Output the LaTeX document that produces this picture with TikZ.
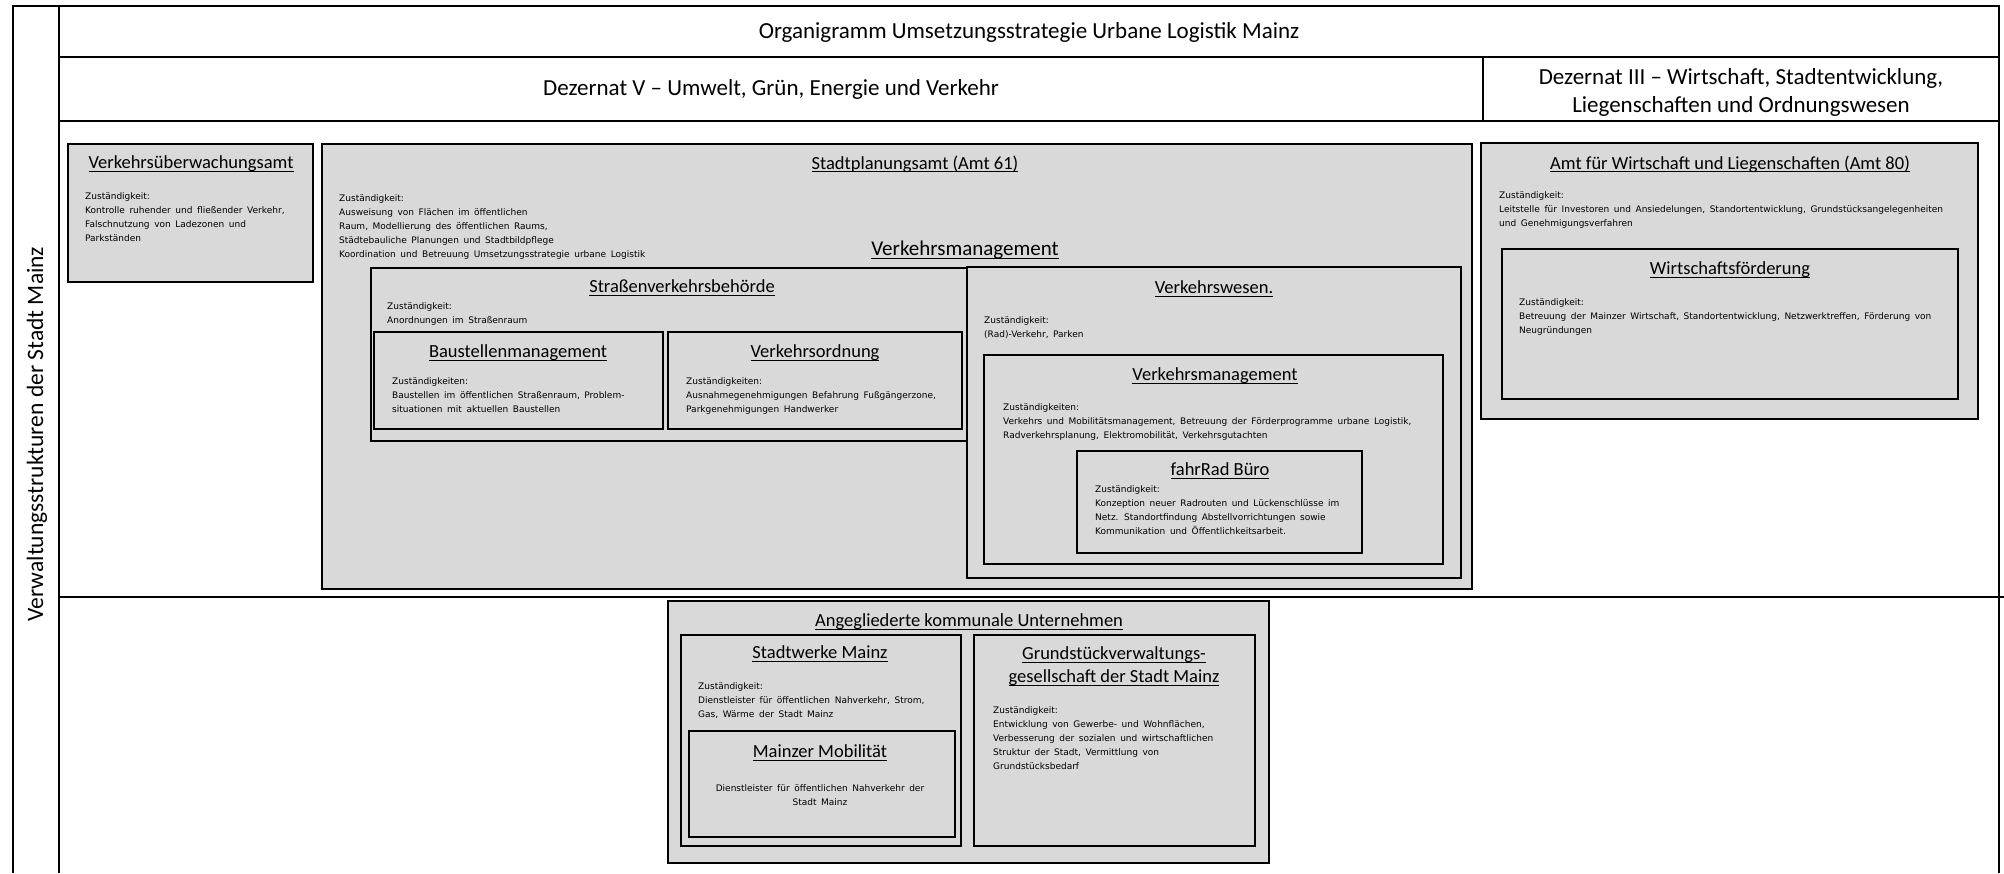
\documentclass[tikz,border=0pt]{standalone}
\usepackage{fontspec}
\setmainfont{Carlito}
\newfontfamily\infofont[WordSpace=1.6]{DejaVu Sans}
\usepackage{tikz}
\usetikzlibrary{fit}
\newcommand{\unterstr}[1]{\leavevmode\setbox0\hbox{#1}\rlap{\vrule height -0.12em depth 0.17em width \wd0}\box0}
\definecolor{boxgray}{RGB}{217,217,217}
\tikzstyle{frame} = [draw, line width=1.8pt]
\tikzstyle{box} = [draw, fill=boxgray, line width=2.3pt, inner sep=0pt]
\tikzstyle{head} = [font=\fontsize{18.5}{23}\selectfont, align=center, inner sep=0pt]
\tikzstyle{big} = [font=\fontsize{23}{28}\selectfont, align=center, inner sep=0pt]
\tikzstyle{info} = [font=\infofont\fontsize{9}{14.2}\selectfont, align=left, anchor=north west, inner sep=0pt]

\begin{document}
\begin{tikzpicture}[x=1pt, y=-1pt]
		            \useasboundingbox (0,0) rectangle (2004,873);
		                \draw [frame] (13,873) -- (13,6) -- (1999,6) -- (1999,873);
		                \draw [frame] (59,6) -- (59,873);
		                \draw [frame] (59,57) -- (1999,57);
		                \draw [frame] (59,121) -- (1999,121);
		                \draw [frame] (1483,57) -- (1483,121);
		                \draw [frame] (59,597) -- (2004,597);
		                \node [big] (titel) at (1029,32) {Organigramm Umsetzungsstrategie Urbane Logistik Mainz};
		                \node [big] (dez5) at (771,89) {Dezernat V -- Umwelt, Grün, Energie und Verkehr};
		                \node [big] (dez3) at (1741,92) {Dezernat III -- Wirtschaft, Stadtentwicklung,\\Liegenschaften und Ordnungswesen};
		                \node [rotate=90, font=\fontsize{23.5}{28}\selectfont] (verw) at (37,434) {Verwaltungsstrukturen der Stadt Mainz};
		                \node [box, fit={(68,144) (313,282)}] (vua) {};
		                \node [box, fit={(322,144) (1472,589)}] (spa) {};
		                \node [box, fit={(371,268) (967,441)}] (svb) {};
		                \node [box, fit={(374,332) (663,429)}] (bsm) {};
		                \node [box, fit={(668,332) (962,429)}] (vo) {};
		                \node [box, fit={(967,267) (1461,578)}] (vw) {};
		                \node [box, fit={(984,355) (1443,564)}] (vm) {};
		                \node [box, fit={(1077,451) (1362,553)}] (frb) {};
		                \node [box, fit={(1481,143) (1978,419)}] (a80) {};
		                \node [box, fit={(1502,249) (1958,399)}] (wf) {};
		                \node [box, fit={(668,601) (1269,863)}] (aku) {};
		                \node [box, fit={(681,635) (961,846)}] (swm) {};
		                \node [box, fit={(689,731) (955,837)}] (mm) {};
		                \node [box, fit={(974,635) (1255,846)}] (gvg) {};
		                \node [head] (vua-h) at (191,164) {\unterstr{Verkehrsüberwachungsamt}};
		                \node [head] (spa-h) at (915,164) {\unterstr{Stadtplanungsamt (Amt 61)}};
		                \node [head, font=\fontsize{21}{25}\selectfont] (vmg-h) at (965,250) {\unterstr{Verkehrsmanagement}};
		                \node [head] (svb-h) at (682,288) {\unterstr{Straßenverkehrsbehörde}};
		                \node [head] (bsm-h) at (518,353) {\unterstr{Baustellenmanagement}};
		                \node [head] (vo-h) at (815,353) {\unterstr{Verkehrsordnung}};
		                \node [head] (vw-h) at (1214,289) {\unterstr{Verkehrswesen.}};
		                \node [head] (vm-h) at (1215,376) {\unterstr{Verkehrsmanagement}};
		                \node [head] (frb-h) at (1220,471) {\unterstr{fahrRad Büro}};
		                \node [head] (a80-h) at (1730,164) {\unterstr{Amt für Wirtschaft und Liegenschaften (Amt 80)}};
		                \node [head] (wf-h) at (1730,270) {\unterstr{Wirtschaftsförderung}};
		                \node [head] (aku-h) at (969,622) {\unterstr{Angegliederte kommunale Unternehmen}};
		                \node [head] (swm-h) at (820,654) {\unterstr{Stadtwerke Mainz}};
		                \node [head] (mm-h) at (820,753) {\unterstr{Mainzer Mobilität}};
		                \node [head] (gvg-h) at (1114,666) {\unterstr{Grundstückverwaltungs-}\\\unterstr{gesellschaft der Stadt Mainz}};
		                \node [info] (vua-i) at (85,192) {Zuständigkeit:\\Kontrolle ruhender und fließender Verkehr,\\Falschnutzung von Ladezonen und\\Parkständen};
		                \node [info] (spa-i) at (339,194) {Zuständigkeit:\\Ausweisung von Flächen im öffentlichen\\Raum, Modellierung des öffentlichen Raums,\\Städtebauliche Planungen und Stadtbildpflege\\Koordination und Betreuung Umsetzungsstrategie urbane Logistik};
		                \node [info] (svb-i) at (387,302) {Zuständigkeit:\\Anordnungen im Straßenraum};
		                \node [info] (bsm-i) at (392,377) {Zuständigkeiten:\\Baustellen im öffentlichen Straßenraum, Problem-\\situationen mit aktuellen Baustellen};
		                \node [info] (vo-i) at (686,377) {Zuständigkeiten:\\Ausnahmegenehmigungen Befahrung Fußgängerzone,\\Parkgenehmigungen Handwerker};
		                \node [info] (vw-i) at (984,316) {Zuständigkeit:\\(Rad)-Verkehr, Parken};
		                \node [info] (vm-i) at (1003,403) {Zuständigkeiten:\\Verkehrs und Mobilitätsmanagement, Betreuung der Förderprogramme urbane Logistik,\\Radverkehrsplanung, Elektromobilität, Verkehrsgutachten};
		                \node [info] (frb-i) at (1095,485) {Zuständigkeit:\\Konzeption neuer Radrouten und Lückenschlüsse im\\Netz. Standortfindung Abstellvorrichtungen sowie\\Kommunikation und Öffentlichkeitsarbeit.};
		                \node [info] (a80-i) at (1499,191) {Zuständigkeit:\\Leitstelle für Investoren und Ansiedelungen, Standortentwicklung, Grundstücksangelegenheiten\\und Genehmigungsverfahren};
		                \node [info] (wf-i) at (1519,298) {Zuständigkeit:\\Betreuung der Mainzer Wirtschaft, Standortentwicklung, Netzwerktreffen, Förderung von\\Neugründungen};
		                \node [info] (swm-i) at (698,682) {Zuständigkeit:\\Dienstleister für öffentlichen Nahverkehr, Strom,\\Gas, Wärme der Stadt Mainz};
		                \node [info, anchor=north, align=center] (mm-i) at (820,784) {Dienstleister für öffentlichen Nahverkehr der\\Stadt Mainz};
		                \node [info] (gvg-i) at (993,706) {Zuständigkeit:\\Entwicklung von Gewerbe- und Wohnflächen,\\Verbesserung der sozialen und wirtschaftlichen\\Struktur der Stadt, Vermittlung von\\Grundstücksbedarf};
		            \end{tikzpicture}
\end{document}
